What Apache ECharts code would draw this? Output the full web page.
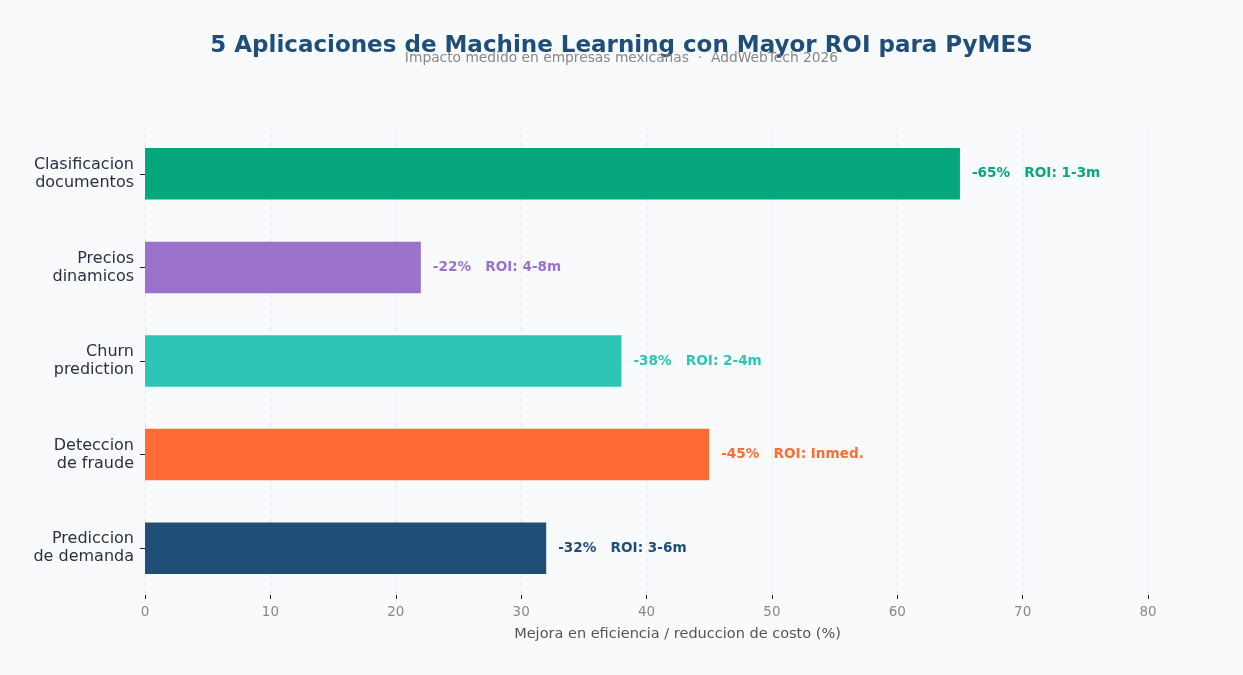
<!DOCTYPE html>
<html>
<head>
<meta charset="utf-8">
<script src="https://cdn.jsdelivr.net/npm/echarts@6/dist/echarts.min.js"></script>
<style>
html,body{margin:0;padding:0;background:#f8fafc;}
#container{width:1243px;height:675px;}
</style>
</head>
<body>
<div id="container"></div>
<script>
var categories = ['Clasificacion\ndocumentos', 'Precios\ndinamicos', 'Churn\nprediction', 'Deteccion\nde fraude', 'Prediccion\nde demanda'];
var values = [65, 22, 38, 45, 32];
var roiLabels = ['1-3m', '4-8m', '2-4m', 'Inmed.', '3-6m'];
var barColors = ['#06a77d', '#9b72cb', '#2ec4b6', '#ff6b35', '#1f4e79'];
var xTicks = [0, 10, 20, 30, 40, 50, 60, 70, 80];

var myChart = echarts.init(document.getElementById('container'));

var option = {
    backgroundColor: '#f8fafc',
    textStyle: { fontFamily: 'DejaVu Sans' },
    title: [{
        text: '5 Aplicaciones de Machine Learning con Mayor ROI para PyMES',
        left: 'center',
        top: 30,
        textStyle: { fontSize: 23, fontWeight: 'bold', color: '#1f4e79' }
    }, {
        text: 'Impacto medido en empresas mexicanas  \u00b7  AddWebTech 2026',
        left: 'center',
        top: 46,
        textStyle: { fontSize: 13.8, fontWeight: 'normal', color: '#888888' }
    }],
    grid: { left: 145, right: 95, top: 127, height: 468 },
    xAxis: {
        type: 'value',
        min: xTicks[0],
        max: xTicks[xTicks.length - 1],
        interval: 10,
        name: 'Mejora en eficiencia / reduccion de costo (%)',
        nameLocation: 'middle',
        nameGap: 32,
        nameTextStyle: { fontSize: 14.5, color: '#555555', padding: [0, 0, 0, 62] },
        axisLine: { show: false },
        axisTick: { show: true, length: 4, lineStyle: { color: '#222' } },
        axisLabel: { fontSize: 13.5, color: '#888888', margin: 10 },
        splitLine: { show: true, lineStyle: { color: '#dfe2ee', type: [4, 4], width: 1 } }
    },
    yAxis: {
        type: 'category',
        inverse: true,
        data: categories,
        axisLine: { show: false },
        axisTick: { show: true, alignWithLabel: true, length: 5, lineStyle: { color: '#222' } },
        axisLabel: { fontSize: 16, color: '#2d2f40', margin: 11, lineHeight: 18, align: 'right', padding: [9, 0, 0, 0] }
    },
    series: [{
        type: 'bar',
        barWidth: '55%',
        data: values.map(function (v, i) {
            return {
                value: v,
                itemStyle: { color: barColors[i] },
                label: {
                    show: true,
                    position: 'right',
                    distance: 12,
                    color: barColors[i],
                    fontSize: 13.6,
                    fontWeight: 'bold',
                    padding: [3, 0, 0, 0],
                    formatter: '-' + v + '%   ROI: ' + roiLabels[i]
                }
            };
        })
    }]
};
myChart.setOption(option);
</script>
</body>
</html>
